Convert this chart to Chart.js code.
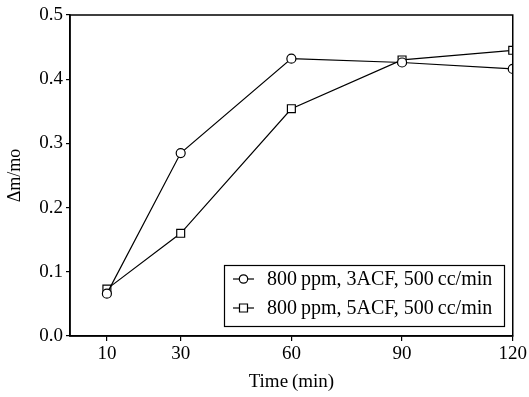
<!DOCTYPE html>
<html><head><meta charset="utf-8">
<script src="https://cdn.jsdelivr.net/npm/chart.js@4/dist/chart.umd.min.js"></script>
<style>html,body{margin:0;padding:0;background:#fff}#w{width:529px;height:397px}</style>
</head><body><div id="w"><canvas id="c"></canvas></div>
<script>
const times = [10, 30, 60, 90, 120];
const xTicks = [10, 30, 60, 90, 120];
const yTicks = [0.0, 0.1, 0.2, 0.3, 0.4, 0.5];
const series3ACF = [0.066, 0.285, 0.432, 0.426, 0.416];
const series5ACF = [0.073, 0.160, 0.354, 0.430, 0.445];
const label3ACF = '800\u2009ppm, 3ACF, 500\u2009cc/min';
const label5ACF = '800\u2009ppm, 5ACF, 500\u2009cc/min';

const FONT = '"Liberation Serif", "Times New Roman", serif';

const framePlugin = {
  id: 'frame',
  afterDraw(chart) {
    const {ctx, chartArea: a} = chart;
    ctx.save();
    ctx.strokeStyle = '#000';
    ctx.lineWidth = 1.5;
    ctx.strokeRect(a.left, a.top, a.right - a.left, a.bottom - a.top);
    // legend box
    const bx = 224, by = 265, bw = 280, bh = 61;
    ctx.fillStyle = '#fff';
    ctx.fillRect(bx, by, bw, bh);
    ctx.lineWidth = 1.2;
    ctx.strokeRect(bx + 0.5, by + 0.5, bw, bh);
    const items = chart.data.datasets;
    items.forEach((ds, i) => {
      const y = by + 14 + i * 29;
      ctx.strokeStyle = '#000';
      ctx.lineWidth = 1.2;
      ctx.beginPath(); ctx.moveTo(233, y); ctx.lineTo(254, y); ctx.stroke();
      ctx.fillStyle = '#fff';
      ctx.beginPath();
      if (ds.pointStyle === 'rect') { ctx.rect(239.5, y - 4, 8, 8); }
      else { ctx.arc(243.5, y, 4.2, 0, Math.PI * 2); }
      ctx.fill(); ctx.stroke();
      ctx.fillStyle = '#000';
      ctx.font = '20px ' + FONT;
      ctx.textBaseline = 'middle';
      ctx.textAlign = 'left';
      ctx.fillText(ds.label, 267, y + 1);
    });
    ctx.restore();
  }
};

new Chart(document.getElementById('c'), {
  type: 'line',
  data: {
    datasets: [
      { label: label3ACF, data: times.map((t, i) => ({x: t, y: series3ACF[i]})),
        borderColor: '#000', borderWidth: 1.2, pointStyle: 'circle', pointRadius: 4.5,
        pointBackgroundColor: '#fff', pointBorderColor: '#000', pointBorderWidth: 1.2, tension: 0 },
      { label: label5ACF, data: times.map((t, i) => ({x: t, y: series5ACF[i]})),
        borderColor: '#000', borderWidth: 1.2, pointStyle: 'rect', pointRadius: 5.6,
        pointBackgroundColor: '#fff', pointBorderColor: '#000', pointBorderWidth: 1.2, tension: 0 }
    ]
  },
  options: {
    responsive: true, maintainAspectRatio: false, animation: false,
    layout: { padding: { top: 15, right: 16, left: 0, bottom: 0 } },
    plugins: { legend: { display: false }, tooltip: { enabled: false } },
    scales: {
      x: {
        type: 'linear', min: 0, max: 120,
        afterBuildTicks: s => { s.ticks = xTicks.map(v => ({value: v})); },
        afterFit: s => { s.height = 61; },
        grid: { drawOnChartArea: false, tickLength: 5, color: '#000', lineWidth: 1.2 },
        border: { display: true, color: '#000', width: 1.5 },
        ticks: { color: '#000', font: { family: FONT, size: 19 }, padding: 2, maxRotation: 0 },
        title: { display: true, text: 'Time\u2009(min)', color: '#000', font: { family: FONT, size: 19 }, padding: { top: 2 } }
      },
      y: {
        min: 0, max: 0.5,
        afterBuildTicks: s => { s.ticks = yTicks.map(v => ({value: v})); },
        afterFit: s => { s.width = 70; },
        grid: { drawOnChartArea: false, tickLength: 4, color: '#000', lineWidth: 1.2 },
        border: { display: true, color: '#000', width: 1.5 },
        ticks: { color: '#000', font: { family: FONT, size: 19 }, padding: 3, callback: v => v.toFixed(1) },
        title: { display: true, text: '\u0394m/mo', color: '#000', font: { family: FONT, size: 18 }, padding: { bottom: 2 } }
      }
    }
  },
  plugins: [framePlugin]
});
</script></body></html>
